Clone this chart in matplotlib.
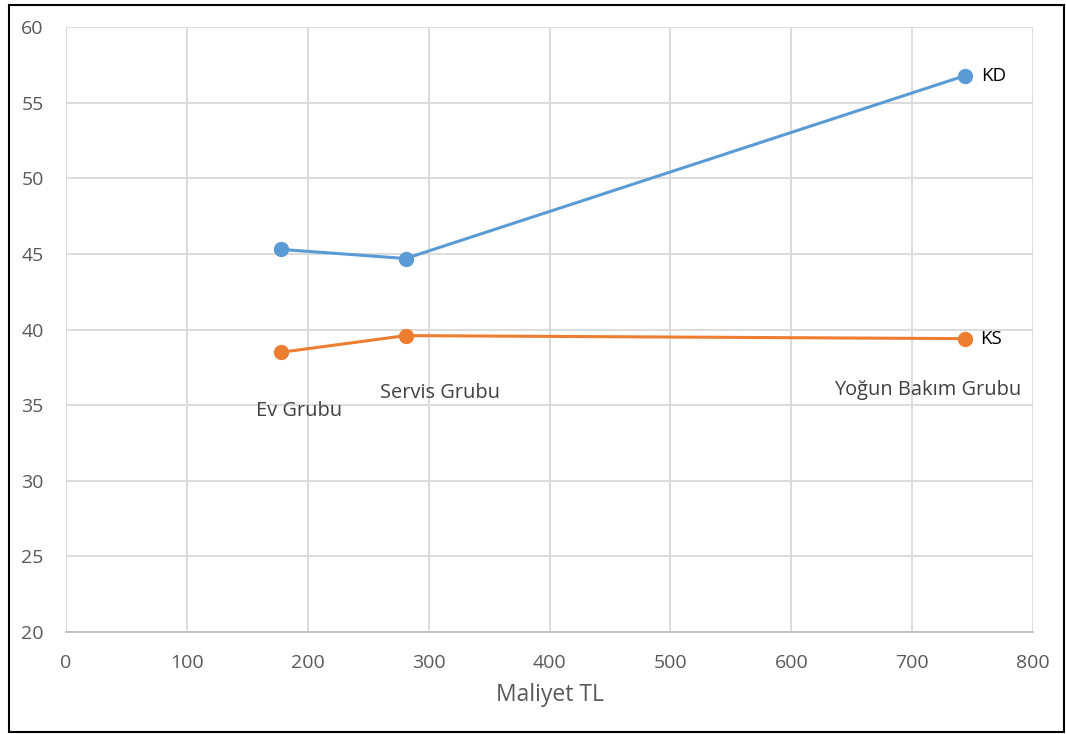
import matplotlib
matplotlib.use('Agg')
import matplotlib.pyplot as plt
from matplotlib.patches import Rectangle

# --- data ---
groups = ['Ev Grubu', 'Servis Grubu', 'Yoğun Bakım Grubu']
maliyet = [178, 281, 744]
kd = [45.3, 44.7, 56.8]
ks = [38.5, 39.6, 39.4]

plt.rcParams['font.family'] = ['Open Sans', 'DejaVu Sans']

fig = plt.figure(figsize=(10.66, 7.34), dpi=100)
ax = fig.add_axes([0.0619, 0.139, 0.9072, 0.824])

blue = '#5B9BD5'
orange = '#ED7D31'
ax.plot(maliyet, kd, color=blue, lw=2.2, marker='o', ms=10, zorder=3)
ax.plot(maliyet, ks, color=orange, lw=2.2, marker='o', ms=10, zorder=3)

# series names at the last point
ax.annotate('KD', (maliyet[-1], kd[-1]), xytext=(11.5, 0), textcoords='offset points',
            va='center', ha='left', fontsize=13.5, color='black')
ax.annotate('KS', (maliyet[-1], ks[-1]), xytext=(10.5, 0), textcoords='offset points',
            va='center', ha='left', fontsize=13.5, color='black')

# group names under the orange points
offsets = [(13, -42), (25, -41), (-27, -37)]
for g, x, y, off in zip(groups, maliyet, ks, offsets):
    ax.annotate(g, (x, y), xytext=off, textcoords='offset points',
                ha='center', va='center', fontsize=14.4, color='#404040')

ax.set_xlim(0, 800)
ax.set_ylim(20, 60)
ax.set_xticks(range(0, 801, 100))
ax.set_yticks(range(20, 61, 5))
ax.grid(True, color='#d9d9d9', lw=1.3)
ax.set_axisbelow(True)
for s in ['top', 'right', 'left']:
    ax.spines[s].set_visible(False)
ax.spines['bottom'].set_color('#bfbfbf')
ax.spines['bottom'].set_linewidth(1.3)
ax.tick_params(length=0, labelsize=14, labelcolor='#595959')
ax.tick_params(axis='x', pad=16)
ax.tick_params(axis='y', pad=16)
ax.set_xlabel('Maliyet TL', fontsize=16.5, color='#595959', labelpad=8)

# black frame round the figure
fig.patches.append(Rectangle((0.008, 0.003), 0.99, 0.99, transform=fig.transFigure,
                             fill=False, edgecolor='black', lw=1.5))

fig.savefig('out.png', dpi=100)
